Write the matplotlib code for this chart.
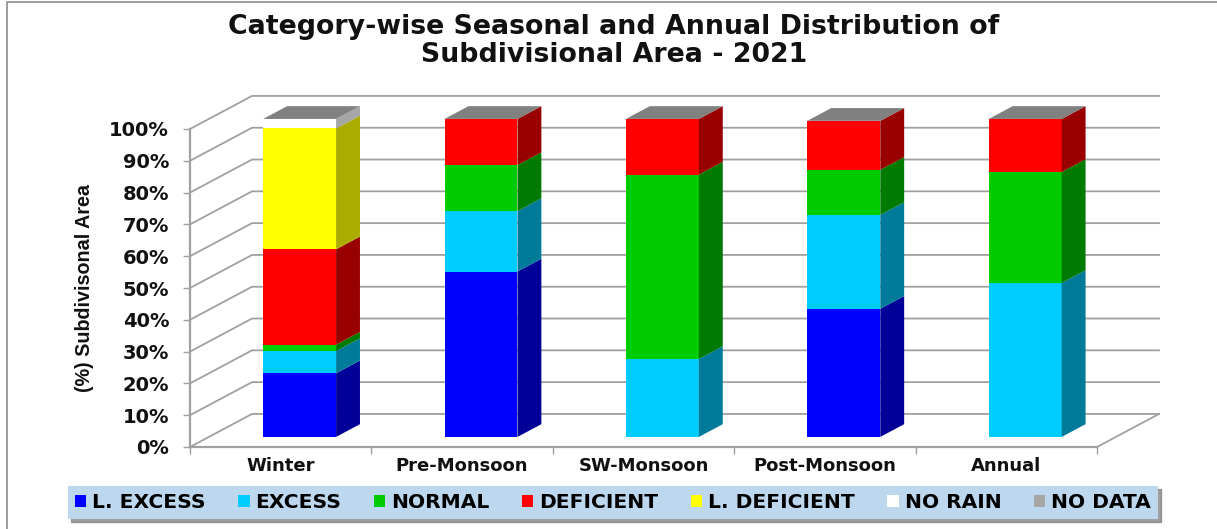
import matplotlib
matplotlib.use("Agg")
import matplotlib.pyplot as plt
from matplotlib.lines import Line2D
from matplotlib.patches import Polygon, Patch
from matplotlib.colors import to_rgb

seasons = ["Winter", "Pre-Monsoon", "SW-Monsoon", "Post-Monsoon", "Annual"]
categories = ["L. EXCESS", "EXCESS", "NORMAL", "DEFICIENT", "L. DEFICIENT", "NO RAIN", "NO DATA"]
colors = ["#0000ff", "#00ccff", "#00cc00", "#ff0000", "#ffff00", "#ffffff", "#a6a6a6"]

l_excess = [20, 52, 0, 40.3, 0]
excess = [7, 19, 24.5, 29.5, 48.4]
normal = [2, 14.5, 58, 14.2, 34.9]
deficient = [30, 14.5, 17.5, 15.4, 16.7]
l_deficient = [38, 0, 0, 0, 0]
no_rain = [3, 0, 0, 0, 0]
no_data = [0, 0, 0, 0, 0]
series = [l_excess, excess, normal, deficient, l_deficient, no_rain, no_data]

yticks = list(range(0, 101, 10))
fonte = "DejaVu Sans"   # o original esta esticado na horizontal
cinza = "#a0a0a0"

# projecao obliqua do grafico 3D: profundidade 1 = parede do fundo
DX = 0.342    # em categorias
DY = 10.4     # em %
D_FRENTE = 0.305
D_FUNDO = 0.69
LARGURA = 0.402


def proj(x, y, d):
    return (x + d * DX, y + d * DY)


fig = plt.figure(figsize=(12.17, 5.29), dpi=100)
ax = fig.add_axes([190 / 1217, 1 - 447 / 529, 907 / 1217, 318 / 529])
ax.set_xlim(0, 5)
ax.set_ylim(0, 100)
ax.patch.set_visible(False)
for lado in ["top", "right"]:
    ax.spines[lado].set_visible(False)
for lado in ["left", "bottom"]:
    ax.spines[lado].set_color(cinza)
    ax.spines[lado].set_linewidth(1.6)
    ax.spines[lado].set_zorder(1)

# paredes e grade
for y in yticks:
    p0 = proj(0, y, 0)
    p1 = proj(0, y, 1)
    p2 = proj(5, y, 1)
    ax.plot([p0[0], p1[0], p2[0]], [p0[1], p1[1], p2[1]], color=cinza, lw=1.3, clip_on=False, zorder=1)
p0 = proj(5, 0, 0)
p1 = proj(5, 0, 1)
ax.plot([p0[0], p1[0]], [p0[1], p1[1]], color=cinza, lw=1.3, clip_on=False, zorder=1)

# barras empilhadas
for i, nome in enumerate(seasons):
    x0 = i + 0.5 - LARGURA / 2
    x1 = x0 + LARGURA
    base = 0
    for serie, cor in zip(series, colors):
        v = serie[i]
        if v == 0:
            continue
        r, g, b = to_rgb(cor)
        escuro = (r * 0.6, g * 0.6, b * 0.6)
        if cor == "#ffffff":
            escuro = "#a6a6a6"
        if cor == "#ffff00":
            escuro = "#acac00"
        frente = [proj(x0, base, D_FRENTE), proj(x1, base, D_FRENTE), proj(x1, base + v, D_FRENTE), proj(x0, base + v, D_FRENTE)]
        lado = [proj(x1, base, D_FRENTE), proj(x1, base, D_FUNDO), proj(x1, base + v, D_FUNDO), proj(x1, base + v, D_FRENTE)]
        ax.add_patch(Polygon(frente, closed=True, facecolor=cor, edgecolor="none", clip_on=False, zorder=3))
        ax.add_patch(Polygon(lado, closed=True, facecolor=escuro, edgecolor="none", clip_on=False, zorder=3))
        base += v
    topo = [proj(x0, base, D_FRENTE), proj(x1, base, D_FRENTE), proj(x1, base, D_FUNDO), proj(x0, base, D_FUNDO)]
    ax.add_patch(Polygon(topo, closed=True, facecolor="#808080", edgecolor="none", clip_on=False, zorder=3))

ax.set_xticks(range(6))
ax.set_xticklabels([])
ax.set_xticks([i + 0.5 for i in range(5)], minor=True)
ax.set_xticklabels(seasons, minor=True, fontfamily=fonte, fontweight="bold", fontsize=13, color="#111111")
ax.tick_params(axis="x", which="major", length=5, color=cinza, width=1)
ax.tick_params(axis="x", which="minor", length=0, pad=7)
ax.set_yticks(yticks)
ax.set_yticklabels([str(y) + "%" for y in yticks], fontfamily=fonte, fontweight="bold", fontsize=14, color="#111111")
ax.tick_params(axis="y", length=5, color=cinza, width=1, pad=10)

fig.text(85 / 1217, 1 - 288 / 529, "(%) Subdivisonal Area", rotation=90, ha="center", va="center",
         fontfamily="Liberation Sans", fontweight="bold", fontsize=14.2, color="#111111")
fig.text(614 / 1217, 1 - 41 / 529, "Category-wise Seasonal and Annual Distribution of\nSubdivisional Area - 2021",
         ha="center", va="center", fontfamily=fonte, fontweight="bold", fontsize=19.3, linespacing=1.08, color="#111111")

handles = [Patch(facecolor=c, edgecolor="none") for c in colors]
leg = fig.legend(handles, categories, ncol=7, loc="lower left", mode="expand",
                 bbox_to_anchor=(68 / 1217, 1 - 519 / 529, 1090 / 1217, 30 / 529),
                 frameon=True, fancybox=False, shadow={"color": "#777777", "alpha": 0.7},
                 facecolor="#bdd7ee", edgecolor="none", framealpha=1, borderaxespad=0,
                 borderpad=0.35, handlelength=0.55, handleheight=0.55, handletextpad=0.3, columnspacing=0.7,
                 prop={"family": fonte, "weight": "bold", "size": 14.6})

# moldura: so esquerda e topo aparecem no recorte
fig.add_artist(Line2D([7 / 1217, 7 / 1217, 1], [0, 1 - 1.5 / 529, 1 - 1.5 / 529], color="#8c8c8c", lw=1.2))

fig.savefig("out.png", dpi=100)
